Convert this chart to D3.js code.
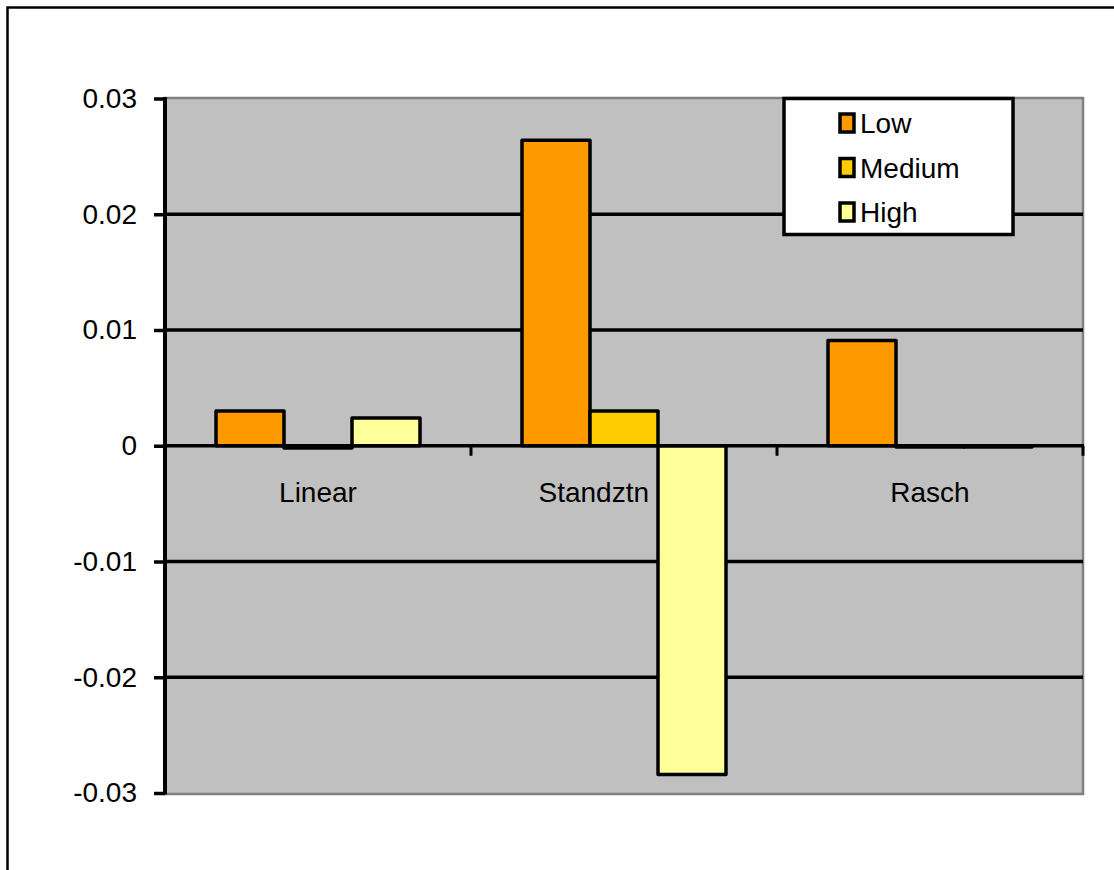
<!DOCTYPE html>
<html>
<head>
<meta charset="utf-8">
<script src="https://cdn.jsdelivr.net/npm/d3@7"></script>
<style>
  html, body { margin: 0; padding: 0; background: #ffffff; }
  svg { display: block; }
  text { font-family: "Liberation Sans", Arial, sans-serif; fill: #000; }
</style>
</head>
<body>
<svg id="chart" width="1114" height="870"></svg>
<script>
// Categories and series
const categories = ["Linear", "Standztn", "Rasch"];
const seriesNames = ["Low", "Medium", "High"];
const seriesColors = ["#FF9900", "#FFCC00", "#FFFF99"];

// Values per series, in category order
const lowValues = [0.0030, 0.0264, 0.0091];
const mediumValues = [-0.0002, 0.0030, -0.0001];
const highValues = [0.0024, -0.0284, -0.0001];

// Value axis ticks
const yTickValues = [0.03, 0.02, 0.01, 0, -0.01, -0.02, -0.03];
const yTickLabels = ["0.03", "0.02", "0.01", "0", "-0.01", "-0.02", "-0.03"];

const seriesValues = [lowValues, mediumValues, highValues];

const svg = d3.select("#chart");

// Layout
const plot = { left: 165, right: 1083, top: 98, bottom: 794 };
const fontSize = "28px";

// Chart outer frame
svg.append("rect")
  .attr("x", 7.5).attr("y", 7.5)
  .attr("width", 1300).attr("height", 1000)
  .attr("fill", "#fff").attr("stroke", "#000").attr("stroke-width", 2.5);

const x = d3.scaleBand().domain(categories)
  .range([plot.left, plot.right]).paddingInner(0).paddingOuter(0);
const xSub = d3.scaleBand().domain(seriesNames)
  .range([0, x.bandwidth()]).paddingInner(0).paddingOuter(0.75);
const y = d3.scaleLinear().domain([-0.03, 0.03]).range([793, 98.5]);

// Plot area
svg.append("rect")
  .attr("x", plot.left).attr("y", plot.top)
  .attr("width", plot.right - plot.left).attr("height", plot.bottom - plot.top)
  .attr("fill", "#C0C0C0").attr("stroke", "#808080").attr("stroke-width", 2.5);

// Horizontal gridlines
svg.append("g").selectAll("line")
  .data(yTickValues.filter(v => v !== 0 && Math.abs(v) < 0.03))
  .join("line")
  .attr("x1", plot.left).attr("x2", plot.right)
  .attr("y1", d => y(d)).attr("y2", d => y(d))
  .attr("stroke", "#000").attr("stroke-width", 3.5);

// Bars
const rows = [];
categories.forEach((c, i) => {
  seriesNames.forEach((s, j) => {
    rows.push({ cat: c, series: s, value: seriesValues[j][i], color: seriesColors[j] });
  });
});

svg.append("g").selectAll("rect")
  .data(rows)
  .join("rect")
  .attr("x", d => x(d.cat) + xSub(d.series))
  .attr("width", xSub.bandwidth())
  .attr("y", d => y(Math.max(0, d.value)))
  .attr("height", d => Math.abs(y(d.value) - y(0)))
  .attr("fill", d => d.color)
  .attr("stroke", "#000").attr("stroke-width", 3.5)
  .attr("stroke-linejoin", "round");

// Category axis along zero; a label that would sit on a deep negative bar
// is moved to end just left of that bar
const xAxis = svg.append("g")
  .attr("transform", `translate(0,${y(0)})`)
  .call(d3.axisBottom(x).tickSize(0).tickPadding(36));
xAxis.select(".domain").remove();
xAxis.selectAll("text")
  .style("font-family", '"Liberation Sans", Arial, sans-serif')
  .style("font-size", fontSize)
  .each(function (cat) {
    const deep = rows.find(r => r.cat === cat && y(r.value) > y(0) + 60);
    if (deep) {
      const barLeft = x(cat) + xSub(deep.series);
      d3.select(this)
        .attr("text-anchor", "end")
        .attr("x", barLeft - x.bandwidth() / 2 - x(cat) - 9);
    }
  });

svg.append("line")
  .attr("x1", plot.left).attr("x2", plot.right + 1)
  .attr("y1", y(0)).attr("y2", y(0))
  .attr("stroke", "#000").attr("stroke-width", 3.5);

// Boundary ticks between categories
svg.append("g").selectAll("line")
  .data(categories.slice(1).concat(["end"]))
  .join("line")
  .attr("x1", d => d === "end" ? plot.right : x(d))
  .attr("x2", d => d === "end" ? plot.right : x(d))
  .attr("y1", y(0)).attr("y2", y(0) + 10)
  .attr("stroke", "#000").attr("stroke-width", 3);

// Value axis
const yAxis = svg.append("g")
  .attr("transform", `translate(${plot.left},0)`)
  .call(d3.axisLeft(y).tickValues(yTickValues)
    .tickFormat((d, i) => yTickLabels[i]).tickSize(11).tickPadding(17).tickSizeOuter(0));
yAxis.select(".domain").remove();
yAxis.selectAll(".tick line").attr("stroke", "#000").attr("stroke-width", 3.5);
yAxis.selectAll("text")
  .style("font-family", '"Liberation Sans", Arial, sans-serif')
  .style("font-size", fontSize);

svg.append("line")
  .attr("x1", plot.left).attr("x2", plot.left)
  .attr("y1", y(0.03) - 1.5).attr("y2", y(-0.03) + 1.5)
  .attr("stroke", "#000").attr("stroke-width", 4);

// Legend
const legend = svg.append("g");
legend.append("rect")
  .attr("x", 784).attr("y", 98.5).attr("width", 229).attr("height", 136)
  .attr("fill", "#fff").attr("stroke", "#000").attr("stroke-width", 3.5);

const legendRows = legend.selectAll("g.item")
  .data(seriesNames)
  .join("g").attr("class", "item")
  .attr("transform", (d, i) => `translate(840,${123 + i * 44.5})`);
legendRows.append("rect")
  .attr("x", 0).attr("y", -9).attr("width", 14).attr("height", 18)
  .attr("fill", (d, i) => seriesColors[i])
  .attr("stroke", "#000").attr("stroke-width", 3.5);
legendRows.append("text")
  .attr("x", 20).attr("y", 10)
  .style("font-size", fontSize)
  .text(d => d);
</script>
</body>
</html>
